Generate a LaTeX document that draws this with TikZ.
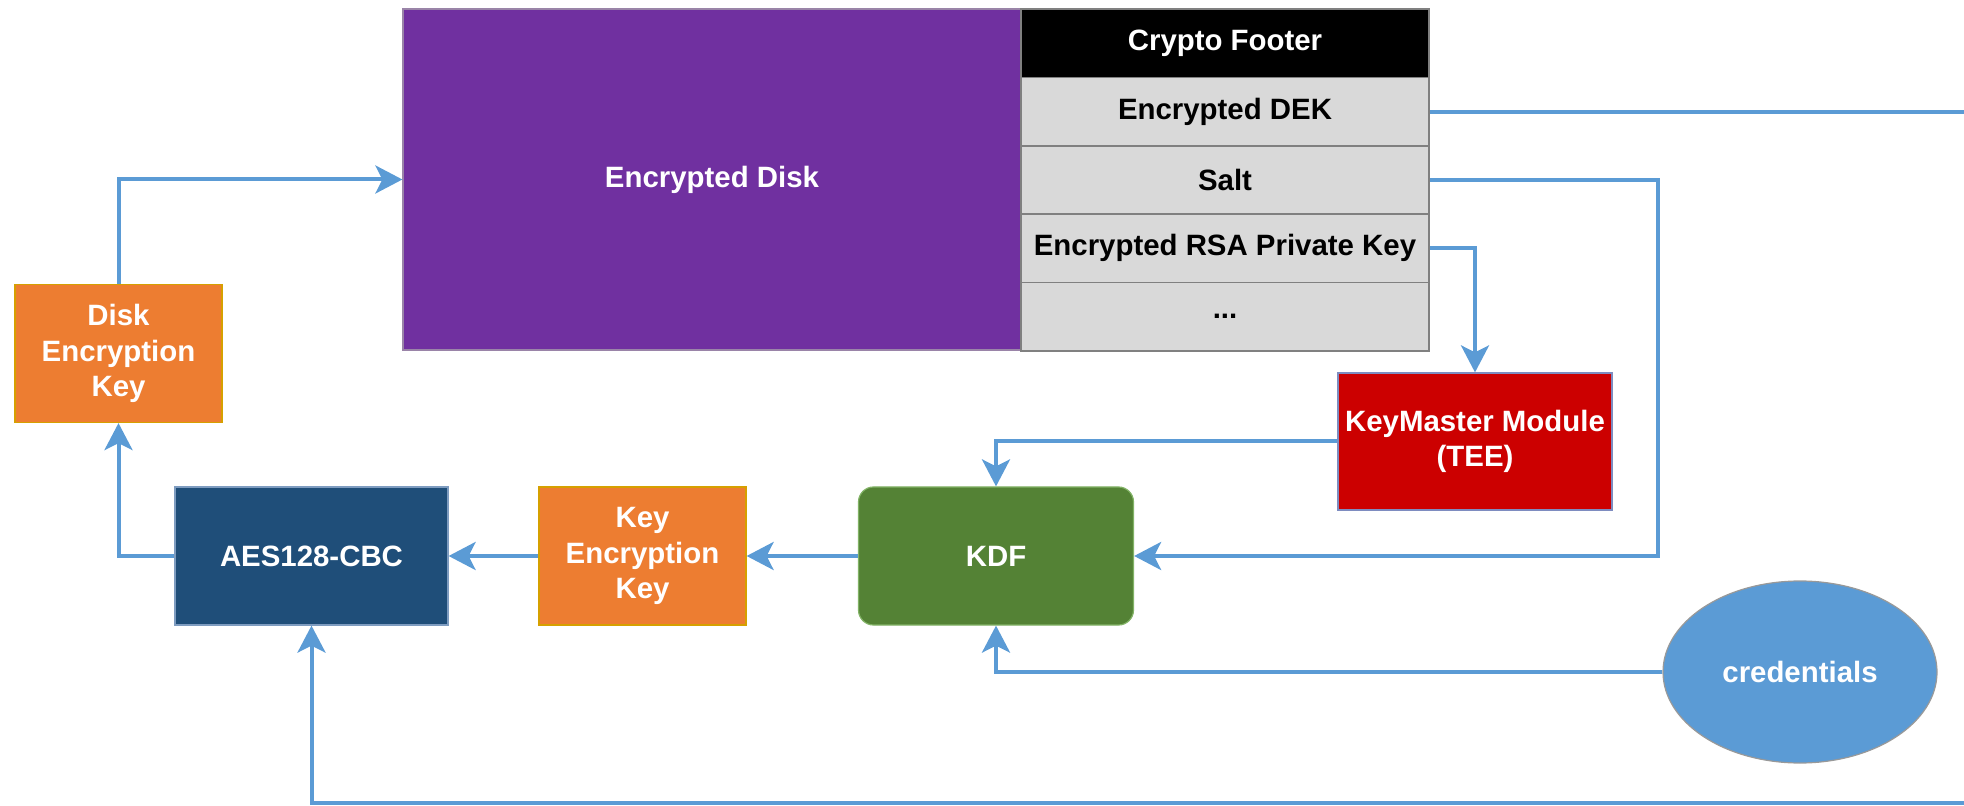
\documentclass[tikz,border=0pt]{standalone}
\usepackage{fontspec}
\setmainfont{Liberation Sans}
\usetikzlibrary{arrows.meta,shapes.geometric}

\definecolor{diskpurple}{HTML}{7030A0}
\definecolor{diskedge}{HTML}{9A84A8}
\definecolor{rowgray}{HTML}{D9D9D9}
\definecolor{rowedge}{HTML}{808080}
\definecolor{keyorange}{HTML}{ED7D31}
\definecolor{keyedge}{HTML}{D6A000}
\definecolor{aesblue}{HTML}{1F4E79}
\definecolor{aesedge}{HTML}{7E9CC0}
\definecolor{kdfgreen}{HTML}{548235}
\definecolor{kdfedge}{HTML}{82B366}
\definecolor{tered}{HTML}{CC0000}
\definecolor{teedge}{HTML}{7E8CC0}
\definecolor{credblue}{HTML}{5B9BD5}
\definecolor{credges}{HTML}{999999}
\definecolor{flow}{HTML}{5B9BD5}

\tikzset{
  lbl/.style={font=\bfseries\fontsize{14.7pt}{17.9pt}\selectfont, align=center, inner sep=0pt},
  box/.style={lbl, rectangle, draw, line width=0.6pt, text=white},
  diskbox/.style={box, fill=diskpurple, draw=diskedge, minimum width=309pt, minimum height=170.5pt},
  footrow/.style={lbl, rectangle, draw=rowedge, line width=0.8pt, fill=rowgray, text=black,
                  minimum width=204pt, minimum height=34.2pt},
  foothead/.style={footrow, fill=black, text=white},
  keybox/.style={box, fill=keyorange, draw=keyedge, minimum width=103.5pt, minimum height=69pt},
  aesbox/.style={box, fill=aesblue, draw=aesedge, minimum width=136.5pt, minimum height=69pt},
  kdfbox/.style={box, fill=kdfgreen, draw=kdfedge, rounded corners=7.5pt,
                 minimum width=137.5pt, minimum height=69pt},
  teebox/.style={box, fill=tered, draw=teedge, minimum width=137pt, minimum height=68.5pt},
  credbox/.style={box, ellipse, fill=credblue, draw=credges, minimum width=137pt, minimum height=91pt},
  link/.style={draw=flow, line width=2pt},
  flowto/.style={link, -{Stealth[length=13.5pt, width=14pt, inset=3.5pt]}}
}

\begin{document}
\begin{tikzpicture}[x=0.5pt, y=-0.5pt]
  \useasboundingbox (0,0) rectangle (1964,806);
  \clip (0,0) rectangle (1964,806);

  % storage layout: disk image and its crypto footer
  \node[diskbox] (disk) at (712,179.5) {Encrypted Disk};
  \node[foothead] (footer) at (1225,43.2)  {Crypto Footer};
  \node[footrow]  (edek)   at (1225,111.6) {Encrypted DEK};
  \node[footrow]  (salt)   at (1225,180)   {Salt};
  \node[footrow]  (rsa)    at (1225,248.4) {Encrypted RSA Private Key};
  \node[footrow]  (more)   at (1225,316.8) {...};

  % key derivation chain
  \node[keybox]  (dek) at (118.5,353.5) {Disk\\Encryption\\Key};
  \node[aesbox]  (aes) at (311.5,556)   {AES128-CBC};
  \node[keybox]  (kek) at (642.5,556)   {Key\\Encryption\\Key};
  \node[kdfbox]  (kdf) at (996,556)     {KDF};
  \node[teebox]  (km)  at (1475,441.5)  {KeyMaster Module\\(TEE)};
  \node[credbox] (cred) at (1800,672)   {credentials};

  % turning points of the routed connectors
  \coordinate (saltturn) at (1658,556);
  \coordinate (offtop)   at (2010,111.6);
  \coordinate (offbot)   at (2010,803);

  % connectors
  \draw[flowto] (dek.north) |- (disk.west);
  \draw[flowto] (aes.west) -| (dek.south);
  \draw[flowto] (kek.west) -- (aes.east);
  \draw[flowto] (kdf.west) -- (kek.east);
  \draw[flowto] (km.west) -| (kdf.north);
  \draw[flowto] (cred.west) -| (kdf.south);
  \draw[flowto] (salt.east) -| (saltturn) -- (kdf.east);
  \draw[flowto] (rsa.east) -| (km.north);
  \draw[flowto] (edek.east) -- (offtop) -- (offbot) -| (aes.south);
\end{tikzpicture}
\end{document}
